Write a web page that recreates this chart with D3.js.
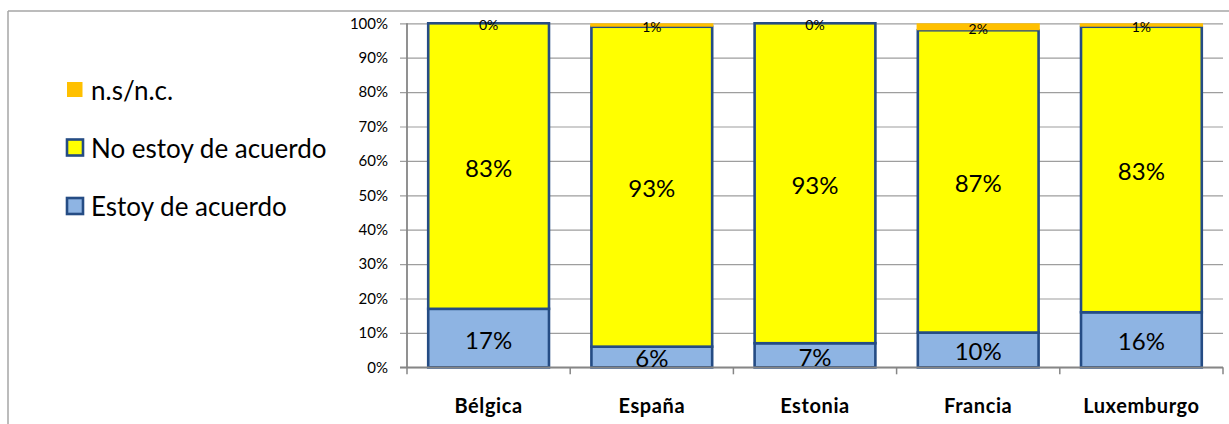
<!DOCTYPE html>
<html>
<head>
<meta charset="utf-8">
<script src="https://cdn.jsdelivr.net/npm/d3@7"></script>
<style>
  html, body { margin: 0; padding: 0; background: #fff; }
  svg { display: block; font-family: Lato, "Open Sans", sans-serif; }
</style>
</head>
<body>
<svg id="chart" width="1229" height="424"></svg>
<script>
// Categories and series (percent)
const countries = ["Bélgica", "España", "Estonia", "Francia", "Luxemburgo"];
const deAcuerdo   = [17, 6, 7, 10, 16];
const noDeAcuerdo = [83, 93, 93, 87, 83];
const nsnc        = [0, 1, 0, 2, 1];
const yTicks = [0, 0.1, 0.2, 0.3, 0.4, 0.5, 0.6, 0.7, 0.8, 0.9, 1];

const seriesKeys = ["acuerdo", "noAcuerdo", "ns"];
const seriesNames = { acuerdo: "Estoy de acuerdo", noAcuerdo: "No estoy de acuerdo", ns: "n.s/n.c." };
const fills = { acuerdo: "#8EB4E3", noAcuerdo: "#FFFF00", ns: "#FFC000" };
const edge = "#254C84";

const rows = countries.map((c, i) => ({
  country: c, acuerdo: deAcuerdo[i], noAcuerdo: noDeAcuerdo[i], ns: nsnc[i]
}));

const svg = d3.select("#chart");

// outer frame lines
svg.append("line").attr("x1", 8).attr("x2", 1229).attr("y1", 11).attr("y2", 11)
  .attr("stroke", "#A6A6A6").attr("stroke-width", 1.5);
svg.append("line").attr("x1", 8).attr("x2", 8).attr("y1", 11).attr("y2", 424)
  .attr("stroke", "#A6A6A6").attr("stroke-width", 1.5);

const plot = { left: 407, right: 1223, top: 23.3, bottom: 367.3 };

const x = d3.scaleBand().domain(countries).range([plot.left, plot.right])
  .paddingInner(0.26).paddingOuter(0.13);
const xEdges = d3.scaleBand().domain(countries).range([plot.left, plot.right]);
const y = d3.scaleLinear().domain([0, 1]).range([plot.bottom, plot.top]);

// gridlines with outside ticks
const yAxis = d3.axisLeft(y).tickValues(yTicks)
  .tickFormat(d3.format(".0%"))
  .tickSize(-(plot.right - plot.left)).tickPadding(12);
const gy = svg.append("g").attr("transform", `translate(${plot.left},0)`).call(yAxis);
gy.select(".domain").remove();
gy.selectAll(".tick line").attr("stroke", "#9E9E9E").attr("stroke-width", 1.2)
  .attr("x1", -7);
gy.selectAll(".tick text").attr("x", -19).attr("font-size", 15)
  .attr("fill", "#000").attr("font-family", "Lato, sans-serif");

// y axis line
svg.append("line").attr("x1", plot.left).attr("x2", plot.left)
  .attr("y1", plot.top).attr("y2", plot.bottom)
  .attr("stroke", "#868686").attr("stroke-width", 1.8);

// stacked bars (100% stacked)
const stack = d3.stack().keys(seriesKeys).offset(d3.stackOffsetExpand);
const layers = stack(rows);

const gBars = svg.append("g");
layers.forEach(layer => {
  const key = layer.key;
  gBars.selectAll(null).data(layer).enter().append("rect")
    .attr("x", d => x(d.data.country) + (key === "ns" ? -1.2 : 0))
    .attr("width", x.bandwidth() + (key === "ns" ? 2.4 : 0))
    .attr("y", d => y(d[1]))
    .attr("height", d => Math.max(0, y(d[0]) - y(d[1])))
    .attr("fill", fills[key])
    .attr("stroke", key === "ns" ? "none" : edge)
    .attr("stroke-width", key === "ns" ? 0 : 2.6);
});

// x axis line and category ticks
svg.append("line").attr("x1", plot.left - 7).attr("x2", plot.right)
  .attr("y1", plot.bottom).attr("y2", plot.bottom)
  .attr("stroke", "#868686").attr("stroke-width", 1.8);
const xAxis = d3.axisBottom(xEdges).tickSize(0).tickPadding(32);
const gx = svg.append("g").attr("transform", `translate(0,${plot.bottom})`).call(xAxis);
gx.select(".domain").remove();
gx.selectAll(".tick text").attr("font-size", 20).attr("font-weight", "bold")
  .attr("letter-spacing", 0.6)
  .attr("fill", "#000").attr("font-family", "Lato, sans-serif");
const edgesX = countries.map(c => xEdges(c)).concat([plot.right]);
svg.append("g").selectAll("line").data(edgesX).enter().append("line")
  .attr("x1", d => d).attr("x2", d => d)
  .attr("y1", plot.bottom).attr("y2", plot.bottom + 7)
  .attr("stroke", "#868686").attr("stroke-width", 1.5);

// value labels
const gLabels = svg.append("g");
layers.forEach(layer => {
  const key = layer.key;
  gLabels.selectAll(null).data(layer).enter().append("text")
    .attr("x", d => x(d.data.country) + x.bandwidth() / 2)
    .attr("y", d => y((d[0] + d[1]) / 2) + (key === "ns" ? 1.5 : 1))
    .attr("text-anchor", "middle")
    .attr("dominant-baseline", "central")
    .attr("font-size", key === "ns" ? 14 : 24)
    .attr("fill", "#000")
    .text(d => d.data[key] + "%");
});

// legend
const legendItems = [
  { key: "ns", y: 89.5 },
  { key: "noAcuerdo", y: 147.5 },
  { key: "acuerdo", y: 206 }
];
const gLeg = svg.append("g");
legendItems.forEach(it => {
  if (it.key === "ns") {
    gLeg.append("rect").attr("x", 67).attr("y", it.y - 7.5).attr("width", 15.5).attr("height", 15)
      .attr("fill", fills.ns);
  } else {
    gLeg.append("rect").attr("x", 67).attr("y", it.y - 8).attr("width", 16).attr("height", 16)
      .attr("fill", fills[it.key]).attr("stroke", edge).attr("stroke-width", 2.6);
  }
  gLeg.append("text").attr("x", 91).attr("y", it.y).attr("dominant-baseline", "central")
    .attr("font-size", 26).attr("fill", "#000").text(seriesNames[it.key]);
});
</script>
</body>
</html>
